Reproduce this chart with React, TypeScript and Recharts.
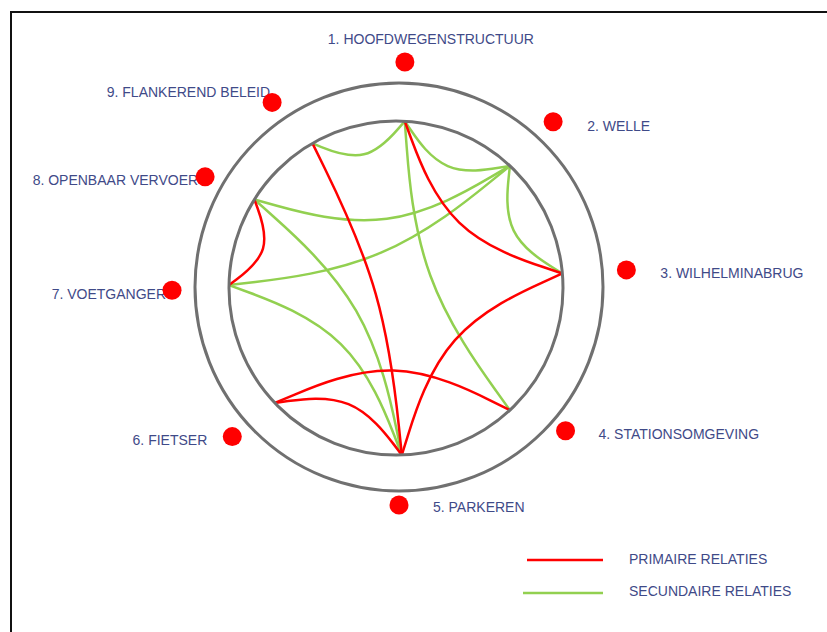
import React from 'react';
import { ComposedChart, Line, Scatter, XAxis, YAxis, ReferenceDot, Legend } from 'recharts';

// ---- data ----
const NODE_LABELS = [
  '1. HOOFDWEGENSTRUCTUUR',
  '2. WELLE',
  '3. WILHELMINABRUG',
  '4. STATIONSOMGEVING',
  '5. PARKEREN',
  '6. FIETSER',
  '7. VOETGANGER',
  '8. OPENBAAR VERVOER',
  '9. FLANKEREND BELEID',
];
// angle (degrees, clockwise from top) where each node's chords meet the inner ring
const ANCHOR_ANGLES = [3, 43, 85, 137, 178, 226.5, 271, 302, 330];
// angle (degrees, clockwise from top) of each node's red marker
const MARKER_ANGLES = [1.5, 43, 85.7, 130.8, 180, 228.1, 269.2, 299.6, 325.5];
// relations as [from node, to node] (1-based)
const PRIMARY_RELATIONS = [[9, 5], [1, 3], [3, 5], [8, 7], [6, 4], [6, 5]];
const SECONDARY_RELATIONS = [[9, 1], [1, 2], [1, 4], [2, 3], [2, 8], [2, 7], [8, 5], [7, 5]];
const LEGEND_LABELS = ['PRIMAIRE RELATIES', 'SECUNDAIRE RELATIES'];

// ---- layout / style ----
const W = 827;
const H = 632;
const INNER = { x: 396, y: 288, r: 167 };
const OUTER = { x: 399, y: 287, r: 204 };
const RED = '#ff0000';
const GREEN = '#92d050';
const GRAY = '#707070';
const TEXT = '#3f4a88';
const FONT = '"Liberation Sans", Arial, sans-serif';
const MARKER_LAYOUT = [
  { dist: 225, dx: 26, dy: -23, anchor: 'middle' },
  { dist: 226, dx: 34, dy: 4, anchor: 'start' },
  { dist: 228, dx: 34, dy: 3, anchor: 'start' },
  { dist: 220, dx: 33, dy: 3, anchor: 'start' },
  { dist: 218, dx: 34, dy: 2, anchor: 'start' },
  { dist: 224, dx: -25, dy: 3, anchor: 'end' },
  { dist: 227, dx: -6, dy: 4, anchor: 'end' },
  { dist: 223, dx: -7, dy: 3, anchor: 'end' },
  { dist: 224, dx: -2, dy: -10, anchor: 'end' },
];

const polar = (c: { x: number; y: number }, r: number, deg: number) => {
  const a = (deg * Math.PI) / 180;
  return { x: c.x + r * Math.sin(a), y: c.y - r * Math.cos(a) };
};

const chordPoints = (a: number, b: number) => {
  const angA = ANCHOR_ANGLES[a - 1];
  const angB = ANCHOR_ANGLES[b - 1];
  const p0 = polar(INNER, INNER.r, angA);
  const p1 = polar(INNER, INNER.r, angB);
  let sep = Math.abs(angA - angB);
  if (sep > 180) sep = 360 - sep;
  const half = ((sep / 2) * Math.PI) / 180;
  const kq = 0.78 * Math.cos(half) * Math.cos(half);
  const kb = 0.25 + 0.75 * kq;
  const mx = (p0.x + p1.x) / 2;
  const my = (p0.y + p1.y) / 2;
  const c = { x: INNER.x + kb * (mx - INNER.x), y: INNER.y + kb * (my - INNER.y) };
  return [p0, c, p1];
};

const markers = NODE_LABELS.map((label, i) => {
  const p = polar(OUTER, MARKER_LAYOUT[i].dist, MARKER_ANGLES[i]);
  return { x: p.x, y: p.y, label, index: i };
});

const MarkerShape = (props: any) => {
  const { cx, cy, payload } = props;
  const lay = MARKER_LAYOUT[payload.index];
  return (
    <g>
      <text
        x={cx + lay.dx}
        y={cy + lay.dy}
        textAnchor={lay.anchor}
        dominantBaseline="central"
        fill={TEXT}
        fontSize={14}
        fontFamily={FONT}
      >
        {payload.label}
      </text>
      <circle cx={cx} cy={cy} r={9.5} fill={RED} />
    </g>
  );
};

const LegendContent = () => (
  <svg width={300} height={70}>
    <line x1={7} y1={15} x2={83} y2={15} stroke={RED} strokeWidth={2.5} />
    <text x={109} y={14} dominantBaseline="central" fill={TEXT} fontSize={14} fontFamily={FONT}>
      {LEGEND_LABELS[0]}
    </text>
    <line x1={3} y1={48} x2={83} y2={48} stroke={GREEN} strokeWidth={2.5} />
    <text x={109} y={46} dominantBaseline="central" fill={TEXT} fontSize={14} fontFamily={FONT}>
      {LEGEND_LABELS[1]}
    </text>
  </svg>
);

export default function App() {
  return (
    <div style={{ position: 'absolute', left: 0, top: 0, width: W, height: H, overflow: 'hidden', background: '#fff' }}>
      <div
        style={{
          position: 'absolute',
          left: 10,
          top: 11,
          width: W + 20,
          height: H + 20,
          borderLeft: '2px solid #111',
          borderTop: '2px solid #111',
        }}
      />
      <div style={{ position: 'absolute', left: 0, top: 0 }}>
        <ComposedChart width={W} height={H} margin={{ top: 0, right: 0, bottom: 0, left: 0 }}>
          <XAxis type="number" dataKey="x" domain={[0, W]} hide allowDataOverflow />
          <YAxis type="number" dataKey="y" domain={[0, H]} reversed hide allowDataOverflow />
          <ReferenceDot x={OUTER.x} y={OUTER.y} r={OUTER.r} fill="none" stroke={GRAY} strokeWidth={3} ifOverflow="visible" />
          <ReferenceDot x={INNER.x} y={INNER.y} r={INNER.r} fill="none" stroke={GRAY} strokeWidth={3} ifOverflow="visible" />
          {SECONDARY_RELATIONS.map(([a, b]) => (
            <Line
              key={`s-${a}-${b}`}
              data={chordPoints(a, b)}
              dataKey="y"
              type="basis"
              stroke={GREEN}
              strokeWidth={2.5}
              dot={false}
              activeDot={false}
              legendType="none"
              isAnimationActive={false}
            />
          ))}
          {PRIMARY_RELATIONS.map(([a, b]) => (
            <Line
              key={`p-${a}-${b}`}
              data={chordPoints(a, b)}
              dataKey="y"
              type="basis"
              stroke={RED}
              strokeWidth={2.5}
              dot={false}
              activeDot={false}
              legendType="none"
              isAnimationActive={false}
            />
          ))}
          <Scatter data={markers} dataKey="y" shape={MarkerShape} isAnimationActive={false} legendType="none" />
          <Legend
            layout="vertical"
            align="center"
            verticalAlign="middle"
            content={LegendContent}
            wrapperStyle={{ left: 520, top: 545, width: 300, height: 70 }}
          />
        </ComposedChart>
      </div>
    </div>
  );
}
